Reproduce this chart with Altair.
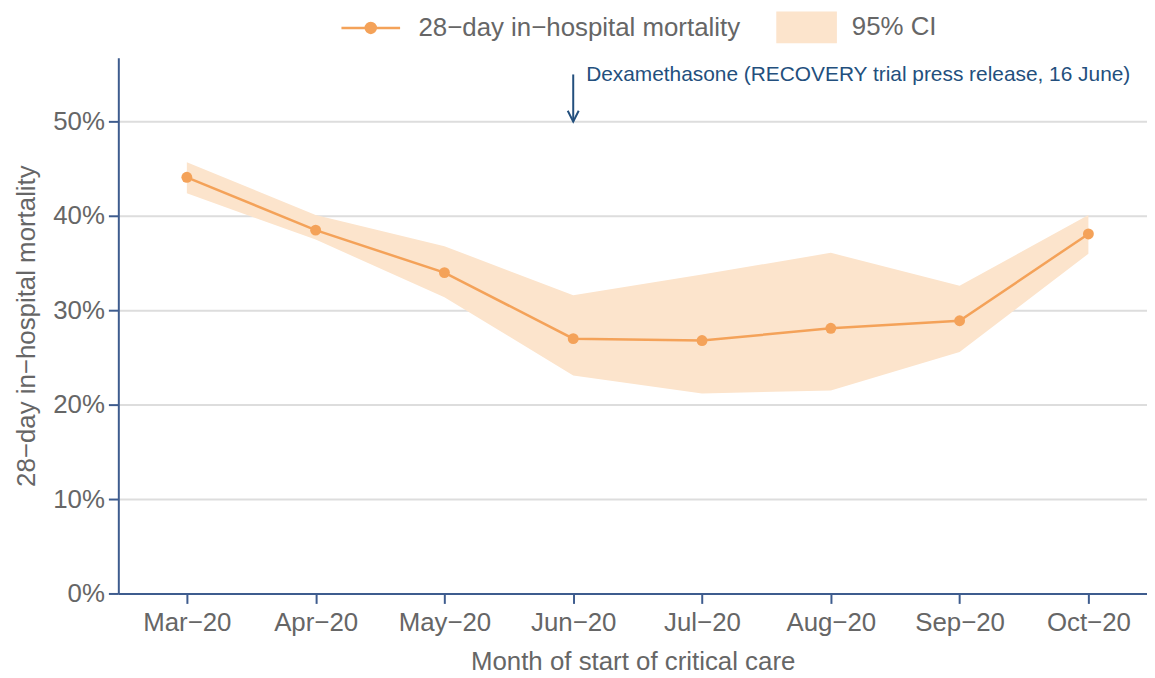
import json
import altair as alt
import pandas as pd

# ---- data ----
months = ["Mar−20", "Apr−20", "May−20", "Jun−20", "Jul−20", "Aug−20", "Sep−20", "Oct−20"]
mortality = [0.441, 0.385, 0.340, 0.270, 0.268, 0.281, 0.289, 0.381]
ci_lower = [0.424, 0.375, 0.314, 0.231, 0.212, 0.215, 0.256, 0.360]
ci_upper = [0.457, 0.401, 0.368, 0.316, 0.338, 0.361, 0.326, 0.401]
y_ticks = [0.0, 0.1, 0.2, 0.3, 0.4, 0.5]

series_label = "28−day in−hospital mortality"
ci_label = "95% CI"
x_title = "Month of start of critical care"
y_title = "28−day in−hospital mortality"

annotation_text = "Dexamethasone (RECOVERY trial press release, 16 June)"
annotation_month = [3]          # index of Jun−20
arrow_start = [0.550]
arrow_end = [0.500]
annotation_y = [0.543]

ORANGE = "#f4a259"
CI_FILL = "#fce4cc"
AXIS = "#3e5c8e"
NAVY = "#234f7d"
GREY = "#666666"
FONT = "Liberation Sans"

df = pd.DataFrame({
    "idx": list(range(len(months))),
    "month": months,
    "mort": mortality,
    "lo": ci_lower,
    "hi": ci_upper,
    "series": series_label,
    "ci": ci_label,
})
ann = pd.DataFrame({
    "idx": annotation_month,
    "y0": arrow_start,
    "y1": arrow_end,
    "ty": annotation_y,
    "text": [annotation_text],
})

label_expr = json.dumps(months, ensure_ascii=False) + "[datum.value]"

x = alt.X(
    "idx:Q",
    scale=alt.Scale(domain=[-0.532, 7.455], nice=False, zero=False),
    axis=alt.Axis(values=list(range(len(months))), labelExpr=label_expr,
                  title=x_title, grid=False, labelPadding=6, titlePadding=14),
)
y_scale = alt.Scale(domain=[0, 0.5677], nice=False)

area = alt.Chart(df).mark_area(opacity=1).encode(
    x=x,
    y=alt.Y("lo:Q", scale=y_scale,
            axis=alt.Axis(values=y_ticks, format=".0%", title=y_title,
                          grid=True, labelPadding=4, titlePadding=13)),
    y2="hi:Q",
    fill=alt.Fill("ci:N", scale=alt.Scale(domain=[ci_label], range=[CI_FILL]),
                  legend=alt.Legend(title=None, orient="none", legendX=662, legendY=-61,
                                    symbolType="M-1,-0.525L1,-0.525L1,0.525L-1,0.525Z",
                                    symbolSize=3721, symbolStrokeWidth=0,
                                    symbolOpacity=1, labelOffset=15, padding=0)),
)

line = alt.Chart(df).mark_line(strokeWidth=2.5, color=ORANGE).encode(
    x="idx:Q", y="mort:Q")

points = alt.Chart(df).mark_point(filled=True, size=120, opacity=1).encode(
    x="idx:Q", y="mort:Q",
    color=alt.Color("series:N", scale=alt.Scale(domain=[series_label], range=[ORANGE]),
                    legend=alt.Legend(title=None, orient="none", legendX=223, legendY=-61,
                                      symbolType="M-1,0L1,0M-0.17,0A0.17,0.17,0,1,1,0.17,0A0.17,0.17,0,1,1,-0.17,0Z",
                                      symbolSize=3481, symbolStrokeColor=ORANGE,
                                      symbolStrokeWidth=2.5, symbolOpacity=1,
                                      labelOffset=17, padding=0)),
)

arrow_line = alt.Chart(ann).mark_rule(color=NAVY, strokeWidth=2).encode(
    x="idx:Q", y="y0:Q", y2="y1:Q")
arrow_head = alt.Chart(ann).mark_point(
    shape="M-0.5,-1L0,0L0.5,-1", size=484, filled=False, color=NAVY,
    strokeWidth=2, opacity=1).encode(x="idx:Q", y="y1:Q")
arrow_text = alt.Chart(ann).mark_text(
    align="left", baseline="alphabetic", dx=13, fontSize=21, font=FONT, color=NAVY
).encode(x="idx:Q", y="ty:Q", text="text:N")

chart = alt.layer(area, line, points, arrow_line, arrow_head, arrow_text).properties(
    width=1035, height=539,
    autosize=alt.AutoSizeParams(type="none"),
    padding={"left": 111, "top": 48, "right": 0, "bottom": 83},
).configure_view(stroke=None).configure_axis(
    domainColor=AXIS, domainWidth=2, tickColor=AXIS, tickWidth=2, tickSize=10,
    labelColor=GREY, titleColor=GREY, labelFont=FONT, titleFont=FONT,
    labelFontSize=26, titleFontSize=26, titleFontWeight="normal",
    gridColor="#dddddd", gridWidth=2,
).configure_legend(
    labelFont=FONT, labelFontSize=26, labelColor=GREY, labelLimit=0,
)

chart.save("out.html", embed_options={"renderer": "svg", "actions": False})
